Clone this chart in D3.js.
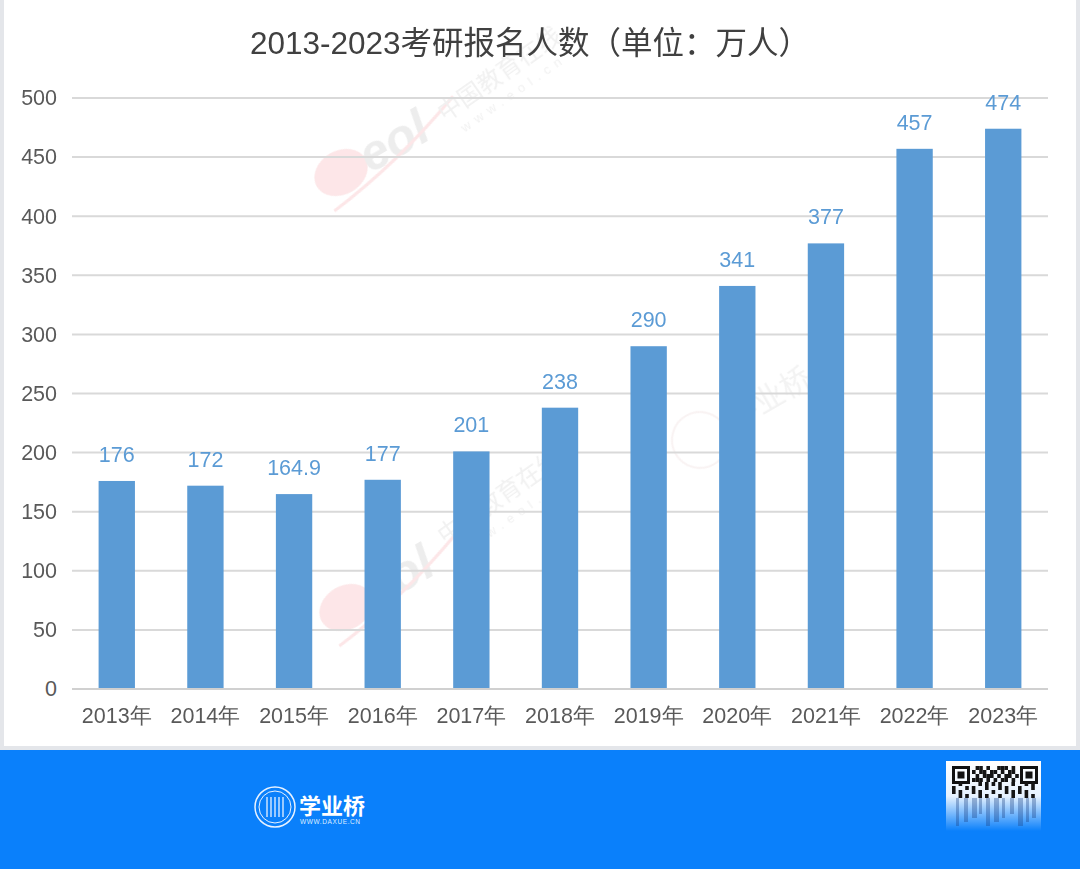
<!DOCTYPE html>
<html>
<head>
<meta charset="utf-8">
<script src="https://cdn.jsdelivr.net/npm/d3@7"></script>
<style>
  body { margin: 0; background: #fff; }
  svg { display: block; font-family: "Liberation Sans", Arial, "Noto Sans CJK SC", sans-serif; }
</style>
</head>
<body>
<svg id="chart" width="1080" height="869"></svg>
<script>
// chart data
const years = ["2013年", "2014年", "2015年", "2016年", "2017年", "2018年", "2019年", "2020年", "2021年", "2022年", "2023年"];
const applicants = [176, 172, 164.9, 177, 201, 238, 290, 341, 377, 457, 474];
const yTicks = [0, 50, 100, 150, 200, 250, 300, 350, 400, 450, 500];

const svg = d3.select("#chart");
const W = 1080, H = 869;

// outer frame: light grey border around the white chart card
svg.append("rect").attr("width", W).attr("height", H).attr("fill", "#e4e6ea");
svg.append("rect").attr("x", 4).attr("y", 0).attr("width", W - 8).attr("height", 746).attr("fill", "#fff");

const margin = { left: 72, right: 32 };
const x = d3.scaleBand()
    .domain(years)
    .range([margin.left, W - margin.right])
    .paddingInner(0.59)
    .paddingOuter(0.3);
const y = d3.scaleLinear().domain([0, 500]).range([689, 98]);

// faint watermarks
const wm = svg.append("g").attr("opacity", 0.12);
[[380, 150], [385, 585]].forEach(([wx, wy]) => {
  const g = wm.append("g").attr("transform", `translate(${wx},${wy}) rotate(-30)`);
  g.append("ellipse").attr("cx", -45).attr("cy", 0).attr("rx", 28).attr("ry", 22).attr("fill", "#e8303a");
  g.append("text").attr("x", -20).attr("y", 16).attr("font-size", 50).attr("font-weight", "bold")
      .attr("font-style", "italic").attr("fill", "#666").text("eol");
  g.append("path").attr("d", "M-70,30 Q10,20 90,-10").attr("fill", "none").attr("stroke", "#e8303a").attr("stroke-width", 3);
});
[[445, 122], [445, 545]].forEach(([wx, wy]) => {
  const g = wm.append("g").attr("transform", `translate(${wx},${wy}) rotate(-35)`);
  g.append("text").attr("font-size", 24).attr("font-family", "Noto Sans CJK SC").attr("fill", "#888").text("中国教育在线");
  g.append("text").attr("x", 10).attr("y", 20).attr("font-size", 13).attr("letter-spacing", 6).attr("fill", "#888").text("www.eol.cn");
});
const wq = wm.append("g").attr("transform", "translate(700,440) rotate(-30)");
wq.append("circle").attr("r", 28).attr("fill", "none").attr("stroke", "#c99").attr("stroke-width", 2);
wq.append("text").attr("x", 36).attr("y", 8).attr("font-size", 30).attr("font-family", "Noto Sans CJK SC").attr("fill", "#999").text("学业桥");

// title
svg.append("text")
    .attr("x", 530).attr("y", 54)
    .attr("text-anchor", "middle")
    .attr("fill", "#404040")
    .attr("font-size", 31.5)
    .text("2013-2023考研报名人数（单位：万人）");

// gridlines
const grid = svg.append("g");
grid.selectAll("line").data(yTicks.filter(d => d > 0)).join("line")
    .attr("x1", margin.left).attr("x2", W - margin.right)
    .attr("y1", d => y(d)).attr("y2", d => y(d))
    .attr("stroke", "#d9d9d9").attr("stroke-width", 2);

// y axis labels
const yAxis = svg.append("g")
    .attr("transform", `translate(${margin.left},0)`)
    .call(d3.axisLeft(y).tickValues(yTicks).tickSize(0).tickPadding(15));
yAxis.select(".domain").remove();
yAxis.selectAll("text").attr("font-size", 21.5).attr("fill", "#595959");

// bars
svg.append("g").selectAll("rect").data(years).join("rect")
    .attr("x", d => x(d))
    .attr("width", x.bandwidth())
    .attr("y", (d, i) => y(applicants[i]))
    .attr("height", (d, i) => y(0) - y(applicants[i]))
    .attr("fill", "#5b9bd5");

// value labels
svg.append("g").selectAll("text").data(years).join("text")
    .attr("x", d => x(d) + x.bandwidth() / 2)
    .attr("y", (d, i) => y(applicants[i]) - 19)
    .attr("text-anchor", "middle")
    .attr("font-size", 21.5)
    .attr("fill", "#5b9bd5")
    .text((d, i) => applicants[i]);

// x axis
const xAxis = svg.append("g")
    .attr("transform", `translate(0,${y(0)})`)
    .call(d3.axisBottom(x).tickSize(0).tickPadding(19));
xAxis.select(".domain").attr("stroke", "#d0d0d0").attr("stroke-width", 2)
    .attr("d", `M${margin.left},0H${W - margin.right}`);
xAxis.selectAll("text").attr("font-size", 21.5).attr("fill", "#595959");

// bottom banner
svg.append("rect").attr("x", 0).attr("y", 750).attr("width", W).attr("height", H - 750).attr("fill", "#0a80fb");

// logo
const logo = svg.append("g").attr("transform", "translate(275,807)");
logo.append("circle").attr("r", 20).attr("fill", "none").attr("stroke", "#e8f2ff").attr("stroke-width", 1.5);
logo.append("circle").attr("r", 16).attr("fill", "none").attr("stroke", "#e8f2ff").attr("stroke-width", 1);
[-8, -4, 0, 4, 8].forEach(dx => {
  logo.append("line").attr("x1", dx).attr("x2", dx).attr("y1", -10).attr("y2", 10)
      .attr("stroke", "#e8f2ff").attr("stroke-width", 1.3);
});
logo.append("text").attr("x", 24).attr("y", 7)
    .attr("fill", "#fff").attr("font-size", 22).attr("font-weight", "bold")
    .attr("font-family", "Noto Sans CJK SC").text("学业桥");
logo.append("text").attr("x", 25).attr("y", 17)
    .attr("fill", "#dfeeff").attr("font-size", 6.5).attr("letter-spacing", 0.6).text("WWW.DAXUE.CN");

// qr code stub with fade
const defs = svg.append("defs");
const fade = defs.append("linearGradient").attr("id", "fade").attr("x1", 0).attr("y1", 0).attr("x2", 0).attr("y2", 1);
fade.append("stop").attr("offset", "0").attr("stop-color", "#fff").attr("stop-opacity", 1);
fade.append("stop").attr("offset", "0.5").attr("stop-color", "#fff").attr("stop-opacity", 0.9);
fade.append("stop").attr("offset", "1").attr("stop-color", "#fff").attr("stop-opacity", 0);
svg.append("rect").attr("x", 946).attr("y", 761).attr("width", 95).attr("height", 70).attr("fill", "url(#fade)");
const qr = svg.append("g").attr("transform", "translate(952,766)");
[0, 68].forEach(qx => {
  qr.append("rect").attr("x", qx + 1.5).attr("y", 1.5).attr("width", 15).attr("height", 15).attr("fill", "none").attr("stroke", "#111").attr("stroke-width", 3);
  qr.append("rect").attr("x", qx + 5.5).attr("y", 5.5).attr("width", 7).attr("height", 7).attr("fill", "#111");
});
const qrRows = [
  "0110100111010",
  "1011011010110",
  "0101110101101",
  "1110101011010",
  "0100111101011",
  "1011010110101",
  "1101101011110",
  "0110110101011"
];
qrRows.forEach((row, r) => {
  row.split("").forEach((c, k) => {
    if (c === "1") {
      const px = r < 4 ? 20 + k * 3.6 : k * 6.6;
      qr.append("rect").attr("x", px).attr("y", r * 4).attr("width", 3.6).attr("height", 4).attr("fill", "#151515");
    }
  });
});
// vertical smear below the code
[4, 12, 20, 27, 34, 42, 50, 58, 66, 74, 80].forEach((sx, i) => {
  qr.append("rect").attr("x", sx).attr("y", 32).attr("width", 3 + (i % 3)).attr("height", 28 - (i % 4) * 4)
      .attr("fill", "#1a3f80").attr("opacity", 0.35);
});
</script>
</body>
</html>
